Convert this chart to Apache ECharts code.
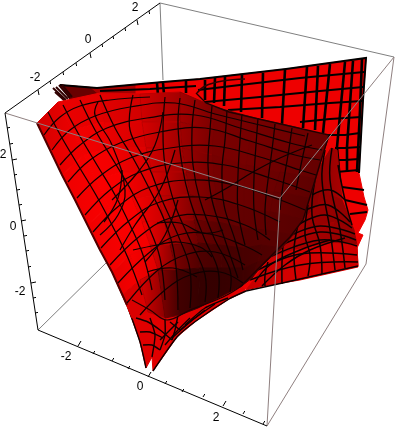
<!DOCTYPE html>
<html><head><meta charset="utf-8">
<style>html,body{margin:0;padding:0;background:#fff}#c{width:396px;height:429px}</style>
<script src="https://cdn.jsdelivr.net/npm/echarts@6/dist/echarts.min.js"></script></head>
<body><div id="c"></div>
<script>
const backOutline=[[60,85],[97,88],[163,82],[200,79],[286,69],[366,58],[363,100],[359,173],[364,197],[368,210],[365,220],[358,233],[363,235],[357,248],[358,267],[300,280],[240,290],[200,200],[190,110]];
const backStrip=[[60,85],[97,88],[135,85],[135,96],[100,100],[72,102]];
const backStripDark=[[60,85],[90,88],[100,96],[72,102]];
const backTopEdge=[[60,85],[97,88],[163,82],[200,79],[286,69],[366,58],[363,100],[359,173]];
const spikes=[[[53,88],[66,100]],[[56,87],[68,99]],[[59,85],[70,98]],[[55,92],[65,101]],[[62,85],[72,97]]];
const backVerticals=[[[157,83],[158,95]],[[163,83],[164,94]],[[186,81],[186,93]],[[205,80],[205,100]],[[215,78],[214,103]],[[225,77],[224,106]],[[242,75],[241,112]],[[263,73],[262,118]],[[285,70],[282,124]],[[307,67],[303,128]],[[318,66],[315,130]],[[330,64],[323,133]],[[345,62],[337,147],[340,182]],[[353,61],[347,147],[347,172]],[[362,59],[360,110],[357,172]]];
const backHorizontals=[[[100,91],[150,89],[196,86]],[[198,90],[240,85],[300,78],[364,72]],[[205,102],[260,97],[320,91],[363,87]],[[228,110],[280,107],[330,103],[362,101]],[[300,122],[330,119],[361,117]],[[325,135],[345,135],[360,133]],[[335,148],[345,148],[360,147]],[[333,160],[345,160],[359,159]],[[336,172],[359,170]],[[342,187],[364,190]],[[345,200],[367,205]],[[350,214],[367,212]]];
const backCurl=[[197,93],[205,86],[223,81],[245,79]];

const midNodes=[
 [[318,170],[325,158],[331,148],[337,150]],
 [[303,220],[318,205],[330,195],[342,200]],
 [[290,237],[310,228],[335,222],[354,230]],
 [[270,258],[295,250],[330,243],[357,245]],
 [[246,290],[280,282],[320,274],[358,266]]];
const midShades=[[115,125,135,150],[150,160,170,190],[165,150,125,105],[190,195,190,185],[205,225,235,225]];
const midLines=[[[312,195],[330,190],[345,200]],[[306,210],[328,205],[350,222]],[[298,225],[325,215],[352,228]],[[290,236],[320,226],[355,234]],[[280,246],[320,232],[356,240]],[[272,256],[320,240],[357,246]],[[258,270],[300,254],[357,255]],[[250,280],[300,265],[358,262]],[[325,150],[322,180],[330,230],[335,270]],[[332,148],[330,180],[340,230],[345,268]],[[315,180],[312,215],[320,245],[322,274]],[[308,205],[305,235],[310,255],[308,276]],[[298,225],[294,250],[296,280]],[[283,245],[282,262],[282,284]],[[268,262],[265,275],[265,286]],[[338,165],[345,200],[352,225]],[[255,282],[270,265],[300,250],[330,240]],[[262,286],[285,265],[310,250],[345,238]],[[246,291],[300,279],[358,266]]];

const tailOutline=[[127,305],[140,342],[146,368],[152,357],[153,371],[177,337],[196,321],[229,299],[246,291],[240,284],[190,300],[150,305]];
const tailLines=[[[146,368],[140,342],[127,305]],[[153,371],[177,337],[196,321],[229,299],[246,291]],[[136,318],[148,322],[160,330],[172,340]],[[140,332],[150,332],[163,338]],[[143,345],[152,345],[160,350]],[[150,318],[155,335],[152,357]],[[165,320],[165,335],[160,350]],[[178,315],[175,330],[172,340]],[[190,318],[178,330],[165,345]],[[205,310],[190,322],[172,338]],[[215,304],[195,318],[180,330]],[[228,298],[205,308],[185,325]],[[170,322],[180,330]],[[178,322],[160,340]]];

const frontNodes=[
 [[37,123],[58,102],[100,93],[140,94],[180,92],[215,107],[255,118],[295,127],[329,136]],
 [[50,150],[72,130],[104,122],[142,122],[180,122],[213,130],[250,140],[288,150],[322,157]],
 [[62,175],[84,155],[112,148],[146,148],[182,148],[212,155],[246,165],[280,172],[316,178]],
 [[75,200],[96,180],[122,172],[152,172],[186,172],[214,178],[244,188],[274,192],[310,197]],
 [[88,226],[108,205],[132,198],[158,196],[190,195],[216,200],[244,208],[270,212],[303,218]],
 [[100,250],[118,230],[142,222],[164,220],[194,220],[218,222],[244,228],[266,230],[293,235]],
 [[112,272],[130,255],[150,245],[170,245],[198,243],[220,245],[243,248],[262,245],[282,248]],
 [[122,295],[140,280],[158,270],[176,270],[200,268],[222,268],[243,268],[258,262],[270,258]],
 [[132,318],[148,312],[165,318],[180,315],[198,308],[222,296],[243,285],[252,278],[260,268]]];
const frontShades=[
 [200,230,222,205,165,122,118,112,105],
 [220,240,232,212,160,122,118,112,105],
 [235,245,238,215,160,122,115,108,95],
 [240,250,245,215,150,115,110,103,90],
 [240,250,245,210,140,108,104,98,88],
 [240,250,248,195,120,95,92,92,88],
 [235,250,240,160,95,80,80,82,85],
 [225,245,205,95,65,60,62,72,80],
 [210,190,70,40,40,48,58,70,75]];
const frontEdge=[[37,123],[50,150],[62,175],[75,200],[88,226],[100,250],[112,272],[127,305]];
const frontArcs=[
 [[44,135],[60,117],[80,106],[110,100],[150,97]],
 [[52,150],[70,130],[95,116],[130,107],[175,103],[215,114],[260,125],[305,136]],
 [[60,165],[80,145],[107,128],[147,118],[195,115],[240,128],[290,143],[322,150]],
 [[68,182],[90,160],[120,143],[160,132],[205,128],[250,141],[295,155],[320,160]],
 [[77,198],[100,176],[130,158],[170,148],[215,146],[260,157],[300,170],[316,175]],
 [[85,215],[110,190],[140,172],[180,163],[225,165],[270,178],[310,192]],
 [[93,232],[120,205],[150,187],[190,180],[235,185],[275,198],[305,210]],
 [[101,248],[130,220],[160,202],[200,197],[240,205],[280,222]],
 [[110,265],[140,236],[170,218],[205,215],[245,225],[270,240]],
 [[118,283],[150,252],[178,235],[210,234],[245,246],[262,255]],
 [[127,303],[158,270],[185,255],[215,252],[245,265]],
 [[140,315],[165,290],[190,275],[220,272],[243,283]],
 [[157,223],[180,223],[203,233],[223,230]],
 [[133,250],[157,245],[177,242],[200,247],[212,257]],
 [[147,272],[173,268],[197,277]]];
const frontRadials=[
 [[48,112],[62,138],[78,165],[96,195],[112,225],[128,258],[142,295]],
 [[63,105],[78,133],[97,165],[115,195],[130,225],[143,255],[152,290]],
 [[80,100],[95,130],[115,163],[132,192],[148,225],[160,258],[165,300]],
 [[100,95],[115,128],[133,158],[150,190],[165,222],[175,258],[178,310]],
 [[133,95],[130,130],[148,165],[162,200],[180,240],[190,270],[190,308]],
 [[165,97],[163,130],[165,165],[175,205],[190,240],[205,275],[205,302]],
 [[180,98],[178,125],[182,165],[190,200],[205,240],[218,270],[218,298]],
 [[195,100],[192,130],[193,165],[200,200],[215,240],[230,270],[230,292]],
 [[212,106],[210,130],[208,165],[212,200],[225,240],[238,278]],
 [[227,110],[225,140],[222,170],[224,205],[235,240],[243,270]],
 [[242,114],[240,140],[238,175],[238,210],[245,245]],
 [[258,118],[256,145],[254,178],[254,210],[258,240]],
 [[275,124],[272,150],[268,180],[265,210],[266,235]],
 [[292,128],[288,155],[283,185],[280,210]],
 [[308,133],[302,160],[296,190]],
 [[98,102],[95,115],[112,145],[125,190],[118,215],[100,235]],
 [[122,170],[118,198],[104,222]],
 [[163,112],[155,145],[138,172],[112,200]],
 [[175,150],[160,190],[135,225],[120,250]],
 [[178,200],[165,235],[145,262]],
 [[312,145],[280,158],[253,172],[227,188],[205,200]]];
const wingEdge=[[196,93],[206,103],[229,112],[263,120],[329,135],[319,167],[303,220],[290,237],[270,257],[240,287]];
const ballEdge=[[132,300],[150,310],[167,320],[190,310],[223,297],[243,285]];

const boxGrey=[[[160,3],[394,57]],[[160,3],[163,80]],[[5,113],[280,198]],[[394,57],[280,198]],[[280,198],[267,426]],[[394,57],[366,264]],[[366,264],[267,426]],[[38,330],[107,262]]];
const axisBlack=[[[5,113],[160,3]],[[5,113],[38,330]],[[38,330],[267,426]]];
const topTicks=[[38,90,1],[50,81,0],[63,72,0],[76,63,0],[90,53,1],[102,44,0],[113,36,0],[125,28,0],[137,20,1],[149,11,0]];
const leftTicks=[[7,128,0],[10,144,0],[12,160,1],[14,175,0],[17,190,0],[19,205,0],[21,221,1],[24,236,0],[26,251,0],[28,267,0],[31,283,1],[33,298,0],[35,313,0]];
const bottomTicks=[[78,346,1],[93,354,0],[112,361,0],[128,369,0],[148,377,1],[165,384,0],[182,392,0],[203,397,0],[223,406,1],[243,414,0],[263,424,0]];
const tickLabels=[[135,8,'2'],[88,40,'0'],[35,78,'-2'],[3,155,'2'],[13,227,'0'],[20,292,'-2'],[66,357,'-2'],[140,387,'0'],[216,418,'2']];

function pts(api,a){return a.map(p=>api.coord([p[0],p[1]]));}
function polySeries(list,fill,stroke,w){return {type:'custom',coordinateSystem:'cartesian2d',clip:false,silent:true,animation:false,
 data:list.map((_,i)=>[i]),renderItem:(p,api)=>({type:'polygon',shape:{points:pts(api,list[api.value(0)])},style:{fill:fill,stroke:stroke||fill,lineWidth:w||1}})};}
function lineSeries(list,color,w,smooth){return {type:'custom',coordinateSystem:'cartesian2d',clip:false,silent:true,animation:false,
 data:list.map((_,i)=>[i]),renderItem:(p,api)=>({type:'polyline',shape:{points:pts(api,list[api.value(0)]),smooth:smooth||0},style:{fill:'none',stroke:color,lineWidth:w}})};}
function red(v){return 'rgb('+Math.round(v)+',0,0)';}
function meshSeries(nodes,shades){const cells=[];for(let r=0;r<nodes.length-1;r++)for(let c=0;c<nodes[0].length-1;c++)cells.push([r,c]);
 return {type:'custom',coordinateSystem:'cartesian2d',clip:false,silent:true,animation:false,data:cells,renderItem:(p,api)=>{
  const r=api.value(0),c=api.value(1);
  const q=[nodes[r][c],nodes[r][c+1],nodes[r+1][c+1],nodes[r+1][c]];
  const a=(shades[r][c]+shades[r+1][c])/2,b=(shades[r][c+1]+shades[r+1][c+1])/2,m=(a+b)/2;
  return {type:'polygon',shape:{points:pts(api,q)},style:{fill:new echarts.graphic.LinearGradient(0,0,1,0,[{offset:0,color:red(a)},{offset:1,color:red(b)}]),stroke:red(m),lineWidth:1}};}};}
function tickSeries(list,dx,dy){const segs=list.map(t=>{const k=t[2]?1:0.6;return [[t[0],t[1]],[t[0]+dx*k,t[1]+dy*k]];});return lineSeries(segs,'#000',1);}

const chart=echarts.init(document.getElementById('c'),null,{renderer:'canvas'});
chart.setOption({animation:false,backgroundColor:'#fff',
 grid:{left:0,right:0,top:0,bottom:0},
 xAxis:{type:'value',min:0,max:396,show:false},
 yAxis:{type:'value',min:0,max:429,inverse:true,show:false},
 series:[
  lineSeries(boxGrey.slice(0,2),'#808080',1),
  lineSeries([boxGrey[7]],'#808080',1),
  polySeries([backOutline],'#ee0000'),
  polySeries([backStrip],'#a80000'),
  polySeries([backStripDark],'#6a0000'),
  lineSeries(backHorizontals,'#000',2),
  lineSeries(backVerticals,'#000',2.6),
  lineSeries([backTopEdge],'#000',2),
  lineSeries([backCurl],'#300000',1.5,0.4),
  lineSeries(spikes,'#300000',2),
  meshSeries(midNodes,midShades),
  lineSeries(midLines,'#0a0000',1.5,0.4),
  polySeries([tailOutline],'#e00000'),
  lineSeries(tailLines,'#100000',1.4,0.2),
  meshSeries(frontNodes,frontShades),
  lineSeries(frontArcs,'#100000',1.25,0.4),
  lineSeries(frontRadials,'#100000',1.25,0.4),
  lineSeries([frontEdge],'#500000',2),
  lineSeries([wingEdge],'#200000',1.4),
  lineSeries([ballEdge],'#200000',1.2,0.4),
  lineSeries(boxGrey.slice(2,7),'#8f8080',1),
  lineSeries(axisBlack,'#000',1),
  tickSeries(topTicks,1,5),
  tickSeries(leftTicks,5,-1),
  tickSeries(bottomTicks,3,-5),
  {type:'custom',coordinateSystem:'cartesian2d',clip:false,silent:true,animation:false,data:tickLabels.map((_,i)=>[i]),
   renderItem:(p,api)=>{const t=tickLabels[api.value(0)];const c=api.coord([t[0],t[1]]);
    return {type:'text',x:c[0],y:c[1],style:{text:t[2],fill:'#000',font:'12px "Liberation Sans"',textAlign:'center',textVerticalAlign:'middle'}};}}
 ]});
</script></body></html>
